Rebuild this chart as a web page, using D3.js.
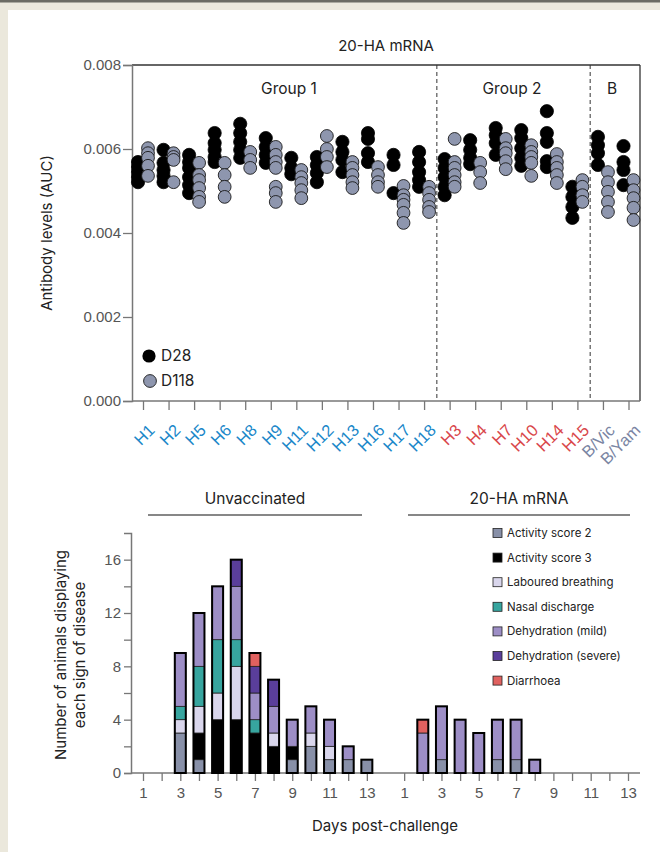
<!DOCTYPE html>
<meta charset="UTF-8">
<style>
  body { margin: 0; background: #ebe8dc; }
  svg { display: block; font-family: Inter, "Noto Sans", sans-serif; }
</style>
<body>
<div class="chart"></div>
<script src="https://cdn.jsdelivr.net/npm/d3@7"></script>
<script>
// ---- top panel data: antibody AUC per HA ----
var strains = ["H1","H2","H5","H6","H8","H9","H11","H12","H13","H16","H17","H18",
               "H3","H4","H7","H10","H14","H15","B/Vic","B/Yam"];
var strainGroup = ["g1","g1","g1","g1","g1","g1","g1","g1","g1","g1","g1","g1",
                   "g2","g2","g2","g2","g2","g2","b","b"];
var d28 = [
  [0.00569,0.00557,0.00545,0.00533,0.00521],
  [0.00598,0.00567,0.00550,0.00536,0.00521],
  [0.00586,0.00569,0.00555,0.00533,0.00514,0.00495],
  [0.00638,0.00614,0.00598,0.00581,0.00569],
  [0.00660,0.00638,0.00617,0.00598,0.00579],
  [0.00626,0.00605,0.00586,0.00567],
  [0.00579,0.00555,0.00540],
  [0.00581,0.00562,0.00543,0.00521],
  [0.00617,0.00593,0.00574,0.00545],
  [0.00638,0.00624,0.00590,0.00569],
  [0.00586,0.00562,0.00495],
  [0.00593,0.00569,0.00545,0.00526,0.00510],
  [0.00576,0.00555,0.00533,0.00510,0.00490],
  [0.00621,0.00598,0.00579,0.00564],
  [0.00650,0.00633,0.00614,0.00586],
  [0.00645,0.00626,0.00602,0.00579,0.00560],
  [0.00690,0.00638,0.00617,0.00571,0.00557],
  [0.00510,0.00486,0.00462,0.00436],
  [0.00629,0.00609,0.00590,0.00562],
  [0.00607,0.00569,0.00550,0.00514]
];
var d118 = [
  [0.00602,0.00590,0.00579,0.00560,0.00536],
  [0.00590,0.00581,0.00574,0.00521],
  [0.00567,0.00538,0.00526,0.00507,0.00486,0.00474],
  [0.00567,0.00538,0.00510,0.00486],
  [0.00593,0.00574,0.00555],
  [0.00605,0.00586,0.00569,0.00555,0.00510,0.00495,0.00474],
  [0.00550,0.00533,0.00519,0.00502,0.00483],
  [0.00631,0.00600,0.00581,0.00557],
  [0.00569,0.00555,0.00538,0.00521,0.00507],
  [0.00557,0.00538,0.00521,0.00510],
  [0.00512,0.00490,0.00479,0.00467,0.00448,0.00424],
  [0.00510,0.00495,0.00479,0.00462,0.00450],
  [0.00624,0.00569,0.00555,0.00538,0.00521,0.00510],
  [0.00567,0.00545,0.00519],
  [0.00624,0.00602,0.00590,0.00571,0.00552],
  [0.00609,0.00593,0.00581,0.00567,0.00536],
  [0.00588,0.00569,0.00555,0.00538,0.00519],
  [0.00526,0.00510,0.00490,0.00474],
  [0.00545,0.00521,0.00498,0.00474,0.00450],
  [0.00526,0.00502,0.00483,0.00460,0.00431]
];
var aucTicks = [0, 0.002, 0.004, 0.006, 0.008];

// ---- bottom panel data: signs of disease per day ----
var days = [1,2,3,4,5,6,7,8,9,10,11,12,13];
var signs = ["Activity score 2","Activity score 3","Laboured breathing","Nasal discharge",
             "Dehydration (mild)","Dehydration (severe)","Diarrhoea"];
var signColors = ["#8890a8","#000000","#d9d6ec","#37a59f","#9d8ec6","#5a3e9b","#e0615f"];
var unvacc = [
  [0,0,3,1,0,0,0,0,1,2,1,1,1],
  [0,0,0,2,4,4,3,2,1,0,0,0,0],
  [0,0,1,2,2,4,0,1,0,1,1,0,0],
  [0,0,1,3,4,2,1,0,0,0,0,0,0],
  [0,0,4,4,4,4,2,2,2,2,2,1,0],
  [0,0,0,0,0,2,2,2,0,0,0,0,0],
  [0,0,0,0,0,0,1,0,0,0,0,0,0]
];
var vacc = [
  [0,0,1,0,0,1,1,0,0,0,0,0,0],
  [0,0,0,0,0,0,0,0,0,0,0,0,0],
  [0,0,0,0,0,0,0,0,0,0,0,0,0],
  [0,0,0,0,0,0,0,0,0,0,0,0,0],
  [0,3,4,4,3,3,3,1,0,0,0,0,0],
  [0,0,0,0,0,0,0,0,0,0,0,0,0],
  [0,1,0,0,0,0,0,0,0,0,0,0,0]
];
var countTicks = [0, 4, 8, 12, 16];

var W = 660, H = 852;
var svg = d3.select(".chart").append("svg").attr("width", W).attr("height", H);

// frame
svg.append("rect").attr("width", W).attr("height", H).attr("fill", "#ebe8dc");
svg.append("rect").attr("width", W).attr("height", 2.5).attr("fill", "#6b6b63");
svg.append("rect").attr("x", 8).attr("y", 10).attr("width", W - 8).attr("height", H - 10).attr("fill", "#fff");

var axisColor = "#777";
function styleAxis(g) {
  g.select(".domain").attr("stroke", axisColor).attr("stroke-width", 1.5);
  g.selectAll(".tick line").attr("stroke", axisColor).attr("stroke-width", 1.3);
}

// ================= top panel =================
var tx = d3.scalePoint().domain(strains).range([143, 628.5]);
var ty = d3.scaleLinear().domain([0, 0.008]).range([401, 65]);

var topG = svg.append("g");

// frame lines top/right
topG.append("line").attr("x1", 132).attr("x2", 640).attr("y1", ty(0.008)).attr("y2", ty(0.008))
  .attr("stroke", "#333").attr("stroke-width", 1.3);
topG.append("line").attr("x1", 640).attr("x2", 640).attr("y1", ty(0.008)).attr("y2", ty(0))
  .attr("stroke", "#333").attr("stroke-width", 1.3);

// dashed separators between groups
[["H18","H3"],["H15","B/Vic"]].forEach(function (p) {
  var x = (tx(p[0]) + tx(p[1])) / 2;
  topG.append("line").attr("x1", x).attr("x2", x).attr("y1", ty(0.008)).attr("y2", ty(0))
    .attr("stroke", "#333").attr("stroke-width", 1).attr("stroke-dasharray", "4,3");
});

var yAx = topG.append("g").attr("transform", "translate(132,0)")
  .call(d3.axisLeft(ty).tickValues(aucTicks).tickFormat(d3.format(".3f")).tickSize(9).tickPadding(2));
styleAxis(yAx);
yAx.selectAll(".tick text").attr("font-size", 15).style("fill", "#555");

var xAx = topG.append("g").attr("transform", "translate(0," + ty(0) + ")")
  .call(d3.axisBottom(tx).tickSize(9).tickPadding(0));
xAx.select(".domain").attr("d", "M132,0H640");
styleAxis(xAx);
var labColor = { g1: "#1a87c9", g2: "#d9474b", b: "#7a85a3" };
xAx.selectAll(".tick text")
  .attr("font-size", 16.5)
  .attr("text-anchor", "end")
  .attr("dy", 0)
  .attr("transform", "translate(6,24) rotate(-45)")
  .style("fill", function (d, i) { return labColor[strainGroup[i]]; });

// dots
strains.forEach(function (s, i) {
  d28[i].forEach(function (v) {
    topG.append("circle").attr("cx", tx(s) - 5).attr("cy", ty(v)).attr("r", 6.6)
      .attr("fill", "#000").attr("stroke", "#000").attr("stroke-width", 0.8);
  });
});
strains.forEach(function (s, i) {
  d118[i].forEach(function (v) {
    topG.append("circle").attr("cx", tx(s) + 5).attr("cy", ty(v)).attr("r", 6.4)
      .attr("fill", "#8e96ae").attr("stroke", "#1a1a1a").attr("stroke-width", 0.9);
  });
});

// texts
topG.append("text").attr("x", 386).attr("y", 51).attr("text-anchor", "middle")
  .attr("font-size", 15).attr("fill", "#222").text("20-HA mRNA");
[["Group 1", 289], ["Group 2", 512], ["B", 612]].forEach(function (g) {
  topG.append("text").attr("x", g[1]).attr("y", 94).attr("text-anchor", "middle")
    .attr("font-size", 15.5).attr("fill", "#222").text(g[0]);
});
topG.append("text").attr("transform", "translate(52,233) rotate(-90)").attr("text-anchor", "middle")
  .attr("font-size", 15).attr("fill", "#222").text("Antibody levels (AUC)");

topG.append("circle").attr("cx", 149).attr("cy", 356).attr("r", 6.6).attr("fill", "#000");
topG.append("text").attr("x", 161).attr("y", 361).attr("font-size", 15.5).attr("fill", "#222").text("D28");
topG.append("circle").attr("cx", 150).attr("cy", 381).attr("r", 6.4).attr("fill", "#8e96ae")
  .attr("stroke", "#1a1a1a").attr("stroke-width", 0.9);
topG.append("text").attr("x", 161).attr("y", 386).attr("font-size", 15.5).attr("fill", "#222").text("D118");

// ================= bottom panel =================
var bx = d3.scaleLinear().domain([0, 26]).range([143, 628]);
var by = d3.scaleLinear().domain([0, 18]).range([773, 533]);
var bot = svg.append("g");

var byAx = bot.append("g").attr("transform", "translate(131,0)")
  .call(d3.axisLeft(by).tickValues(d3.range(0, 19, 2)).tickSize(7).tickPadding(3)
    .tickFormat(function (d) { return countTicks.indexOf(d) >= 0 ? d : ""; }));
styleAxis(byAx);
byAx.selectAll(".tick text").attr("font-size", 15).style("fill", "#555");
byAx.selectAll(".tick").filter(function (d) { return d === 18; }).remove();

var slots = d3.range(0, 27).filter(function (i) { return i !== 13; });
var bxAx = bot.append("g").attr("transform", "translate(0,773)")
  .call(d3.axisBottom(bx).tickValues(slots).tickSize(8).tickPadding(6)
    .tickFormat(function (i) { var d = i < 13 ? i + 1 : i - 13; return d % 2 ? d : ""; }));
bxAx.select(".domain").attr("d", "M131,0H640");
styleAxis(bxAx);
bxAx.selectAll(".tick text").attr("font-size", 15).style("fill", "#555");

function drawBars(series, offset) {
  var rows = days.map(function (d, j) {
    var r = { day: d, slot: j + offset };
    signs.forEach(function (s, k) { r[s] = series[k][j]; });
    return r;
  });
  var stacked = d3.stack().keys(signs)(rows);
  var bw = 11;
  stacked.forEach(function (layer, k) {
    bot.append("g").selectAll("rect").data(layer.filter(function (p) { return p[1] > p[0]; }))
      .enter().append("rect")
      .attr("x", function (p) { return bx(p.data.slot) - bw / 2; })
      .attr("width", bw)
      .attr("y", function (p) { return by(p[1]); })
      .attr("height", function (p) { return by(p[0]) - by(p[1]); })
      .attr("fill", signColors[k])
      .attr("stroke", "#222").attr("stroke-width", 0.8);
  });
  bot.append("g").selectAll("rect").data(rows.filter(function (r) {
      return d3.sum(signs, function (s) { return r[s]; }) > 0; }))
    .enter().append("rect")
    .attr("x", function (r) { return bx(r.slot) - bw / 2; })
    .attr("width", bw)
    .attr("y", function (r) { return by(d3.sum(signs, function (s) { return r[s]; })); })
    .attr("height", function (r) { return by(0) - by(d3.sum(signs, function (s) { return r[s]; })); })
    .attr("fill", "none").attr("stroke", "#000").attr("stroke-width", 2);
}
drawBars(unvacc, 0);
drawBars(vacc, 14);

// group headers
[["Unvaccinated", 148, 362], ["20-HA mRNA", 408, 630]].forEach(function (g) {
  bot.append("text").attr("x", (g[1] + g[2]) / 2).attr("y", 504).attr("text-anchor", "middle")
    .attr("font-size", 15.5).attr("fill", "#222").text(g[0]);
  bot.append("line").attr("x1", g[1]).attr("x2", g[2]).attr("y1", 515).attr("y2", 515)
    .attr("stroke", "#111").attr("stroke-width", 1.2);
});

// legend
signs.forEach(function (s, k) {
  var y = 533 + k * 24.6;
  bot.append("rect").attr("x", 493).attr("y", y - 4.5).attr("width", 9).attr("height", 9)
    .attr("fill", signColors[k]).attr("stroke", "#222").attr("stroke-width", 0.8);
  bot.append("text").attr("x", 507).attr("y", y + 4).attr("font-size", 11.5).attr("fill", "#222").text(s);
});

// axis titles
var yl = bot.append("text").attr("transform", "translate(66,655) rotate(-90)").attr("text-anchor", "middle")
  .attr("font-size", 15).attr("fill", "#222");
yl.append("tspan").attr("x", 0).attr("dy", 0).text("Number of animals displaying");
yl.append("tspan").attr("x", 0).attr("dy", 19).text("each sign of disease");
bot.append("text").attr("x", 385).attr("y", 831).attr("text-anchor", "middle")
  .attr("font-size", 15).attr("fill", "#222").text("Days post-challenge");
</script>
</body>
